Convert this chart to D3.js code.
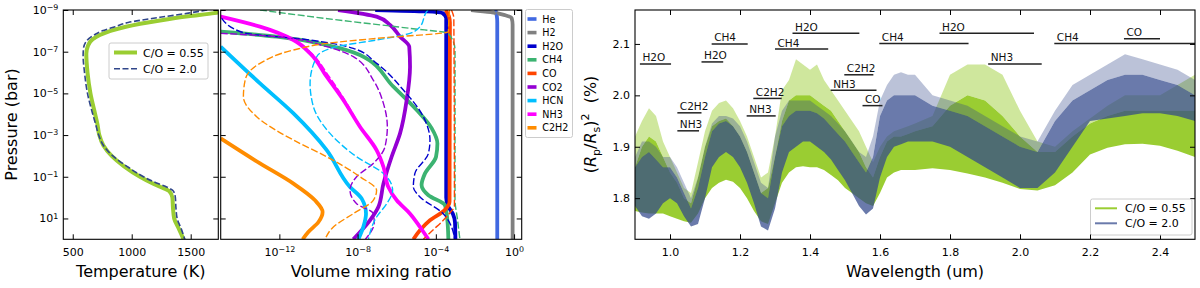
<!DOCTYPE html>
<html><head><meta charset="utf-8">
<script src="https://cdn.jsdelivr.net/npm/d3@7"></script>
<style>
body{margin:0;background:#fff;}
svg{font-family:"DejaVu Sans",sans-serif;}
</style></head><body>
<svg id="chart" width="1200" height="288"></svg>
<script>
// ---------------- DATA ----------------
// Temperature-pressure profiles (log10 P [bar], T [K])
const tpLogP055 = [-9, -8.85, -8.7, -8.5, -8.2, -8.0, -7.8, -7.6, -7.3, -6.9, -6, -5, -4, -3.5, -3, -2.5, -2, -1.5, -1, -0.7, -0.5, -0.3, 0, 0.5, 1, 1.5, 2];
const tp055     = [1790, 1700, 1480, 1240, 950, 820, 730, 670, 630, 615, 625, 650, 690, 710, 725, 760, 830, 935, 1070, 1170, 1250, 1320, 1345, 1350, 1360, 1400, 1440];
const tpLogP20  = [-9, -8.85, -8.65, -8.4, -8.2, -8.0, -7.8, -7.5, -7.1, -6.8, -6, -5, -4, -3.5, -3, -2.5, -2, -1.5, -1, -0.7, -0.5, -0.3, 0, 0.5, 1, 1.5, 2];
const tp20      = [1640, 1480, 1240, 970, 860, 750, 680, 615, 590, 588, 600, 625, 670, 695, 720, 760, 840, 960, 1100, 1210, 1300, 1355, 1370, 1375, 1385, 1420, 1450];

// Volume mixing ratio profiles: [log10 P, log10 VMR]
const species = ["He", "H2", "H2O", "CH4", "CO", "CO2", "HCN", "NH3", "C2H2"];
const speciesColors = ["#4169e1", "#808080", "#0000cd", "#3cb371", "#ff4500", "#9400d3", "#00bfff", "#ff00ff", "#ff8c00"];
const He_055 = [[-9,-0.95],[-8.7,-0.88],[-8.4,-0.86],[2,-0.86]];
const He_20  = [[-9,-0.95],[-8.7,-0.88],[-8.4,-0.86],[2,-0.86]];
const H2_055 = [[-9,-2.2],[-8.9,-1.2],[-8.75,-0.45],[-8.6,-0.12],[-8.3,-0.075],[2,-0.075]];
const H2_20  = [[-9,-2.2],[-8.9,-1.2],[-8.75,-0.45],[-8.6,-0.12],[-8.3,-0.075],[2,-0.075]];
const H2O_055 = [[-9,-7.1],[-8.93,-4.5],[-8.85,-3.65],[-8.6,-3.47],[0,-3.47],[0.4,-3.38],[0.8,-3.12],[1.2,-3.02],[2,-3.0]];
const H2O_20  = [[-8.6,-14.95],[-7.91,-13.84],[-7.56,-10.43],[-7.16,-8.22],[-6.44,-7.03],[-5.16,-5.66],[-3.88,-4.64],[-2.76,-4.3],[-2.12,-4.38],[-1.16,-5.07],[-0.51,-5.15],[-0.03,-4.81],[0.77,-3.62],[2.0,-3.02]];
const CH4_055 = [[-7.96,-15],[-7.72,-12.14],[-7.32,-9.58],[-6.84,-7.88],[-5.32,-6.17],[-4.2,-4.98],[-3.32,-4.21],[-2.6,-3.92],[-1.96,-3.99],[-1.15,-4.56],[-0.6,-4.73],[-0.11,-4.38],[0.37,-3.53],[1.09,-3.41],[2.0,-3.36]];
const CH4_20  = [[-9,-12.99],[-8.49,-8.73],[-8.12,-5.32],[-7.88,-3.36],[-7.08,-3.02],[0.1,-3.02],[1.0,-2.9],[2,-2.77]];
const CO_055 = [[-9,-3.5],[-8.7,-3.33],[-8.4,-3.28],[0.2,-3.3],[0.6,-3.55],[1.09,-4.3],[1.57,-4.81],[2,-5.15]];
const CO_20  = [[-9,-3.2],[-8.6,-3.08],[0.4,-3.05],[0.75,-3.3],[1.09,-3.62],[1.6,-4.2],[2,-4.64]];
const CO2_055 = [[-9,-9.0],[-8.68,-7.03],[-8.28,-6.34],[-7.72,-5.83],[-7.24,-5.36],[-6.28,-5.32],[-4.68,-5.49],[-3.08,-5.83],[-1.96,-6.26],[-0.67,-6.68],[0.45,-6.94],[1.09,-7.37],[2.0,-8.22]];
const CO2_20  = [[-7.88,-15],[-7.72,-12.14],[-7.24,-9.58],[-6.76,-8.22],[-5.64,-7.2],[-4.52,-6.68],[-3.4,-6.48],[-2.44,-6.6],[-1.64,-7.2],[-1.0,-8.05],[-0.35,-8.39],[0.29,-8.05],[0.77,-7.2],[1.2,-7.15],[2,-7.6]];
const HCN_055 = [[-7.24,-15],[-5.48,-12.99],[-4.04,-11.28],[-2.28,-9.58],[-0.51,-8.39],[0.05,-7.79],[0.77,-7.57],[1.41,-7.71],[2.0,-7.96]];
const HCN_20  = [[-9,-4.4],[-8.92,-4.47],[-8.2,-4.81],[-7.88,-5.32],[-7.56,-7.03],[-7.24,-9.07],[-6.76,-10.09],[-5.48,-10.43],[-4.36,-10.26],[-3.08,-9.41],[-1.96,-8.05],[-1.16,-6.68],[-0.35,-6.21],[0.29,-6.51],[0.93,-7.03],[2.0,-7.45]];
const NH3_055 = [[-8.68,-15],[-8.2,-12.99],[-7.56,-11.28],[-6.92,-10.43],[-5.8,-9.58],[-4.68,-8.73],[-3.4,-7.88],[-2.28,-7.03],[-1.48,-6.68],[-0.51,-6.43],[0.13,-6.0],[0.77,-5.32],[1.41,-4.81],[2.0,-4.38]];
const NH3_20  = [[-8.68,-15],[-8.2,-13.0],[-7.56,-11.2],[-6.92,-10.35],[-5.8,-9.45],[-4.68,-8.65],[-3.4,-7.85],[-2.28,-7.05],[-1.48,-6.72],[-0.51,-6.45],[0.13,-6.02],[0.77,-5.35],[1.41,-4.83],[2.0,-4.4]];
const C2H2_055 = [[-2.84,-15],[-1.64,-12.99],[-0.67,-11.28],[0.13,-10.18],[0.69,-9.79],[1.17,-10.0],[1.65,-10.52],[2.0,-10.81]];
const C2H2_20  = [[-9,-3.3],[-8.2,-3.35],[-7.96,-3.36],[-7.64,-7.03],[-7.4,-9.58],[-7.08,-11.28],[-6.44,-12.99],[-5.64,-13.75],[-4.84,-13.84],[-3.88,-13.16],[-2.76,-11.28],[-1.96,-9.58],[-1.0,-7.88],[-0.35,-7.03],[0.13,-7.2],[0.77,-8.22],[1.41,-9.24],[2.0,-9.67]];
const profiles055 = [He_055, H2_055, H2O_055, CH4_055, CO_055, CO2_055, HCN_055, NH3_055, C2H2_055];
const profiles20  = [He_20, H2_20, H2O_20, CH4_20, CO_20, CO2_20, HCN_20, NH3_20, C2H2_20];

// Transmission spectra: wavelength (um), lower edge / dense top / spike top of (Rp/Rs)^2 (%)
const wl = [0.90,0.92,0.94,0.96,0.98,1.00,1.02,1.04,1.06,1.08,1.10,1.12,1.14,1.16,1.18,1.20,1.22,1.24,1.26,1.28,1.30,1.32,1.34,1.36,1.38,1.40,1.42,1.44,1.46,1.48,1.50,1.52,1.54,1.56,1.58,1.60,1.62,1.64,1.66,1.68,1.70,1.75,1.80,1.85,1.90,1.95,2.00,2.05,2.10,2.15,2.20,2.25,2.30,2.35,2.40,2.45,2.50];
const g055Lo  = [1.775,1.772,1.77,1.77,1.77,1.765,1.76,1.755,1.752,1.77,1.80,1.82,1.83,1.836,1.832,1.82,1.80,1.775,1.755,1.75,1.79,1.83,1.85,1.86,1.862,1.86,1.86,1.855,1.845,1.835,1.82,1.81,1.80,1.79,1.785,1.81,1.84,1.85,1.855,1.855,1.855,1.858,1.855,1.848,1.84,1.83,1.818,1.815,1.825,1.85,1.885,1.898,1.905,1.906,1.902,1.892,1.88];
const g055Top = [1.86,1.90,1.92,1.91,1.88,1.85,1.83,1.80,1.79,1.84,1.90,1.94,1.95,1.955,1.94,1.92,1.89,1.85,1.81,1.82,1.88,1.95,1.99,2.0,2.0,2.0,1.99,1.98,1.97,1.95,1.93,1.91,1.89,1.86,1.84,1.88,1.91,1.92,1.92,1.925,1.93,1.94,1.98,2.0,1.99,1.96,1.92,1.89,1.89,1.92,1.945,1.96,1.97,1.97,1.97,1.97,1.97];
const g055Hi  = [1.92,1.95,1.975,1.96,1.91,1.88,1.85,1.82,1.81,1.87,1.93,1.97,1.985,1.99,1.975,1.95,1.92,1.88,1.84,1.85,1.92,2.01,2.03,2.07,2.06,2.05,2.06,2.03,2.01,1.99,1.97,1.95,1.93,1.90,1.87,1.90,1.92,1.93,1.935,1.94,1.945,1.96,2.04,2.06,2.06,2.04,1.97,1.91,1.90,1.93,1.955,1.98,2.0,2.0,2.0,2.02,2.04];
const b20Lo   = [1.785,1.765,1.76,1.77,1.79,1.80,1.79,1.765,1.745,1.75,1.80,1.86,1.88,1.89,1.88,1.86,1.83,1.79,1.745,1.737,1.78,1.85,1.89,1.90,1.91,1.91,1.90,1.89,1.875,1.855,1.835,1.81,1.785,1.768,1.78,1.84,1.88,1.90,1.905,1.91,1.91,1.91,1.90,1.88,1.86,1.84,1.82,1.82,1.85,1.90,1.95,1.955,1.96,1.965,1.965,1.96,1.95];
const b20Top  = [1.86,1.88,1.89,1.875,1.86,1.86,1.84,1.81,1.78,1.82,1.88,1.93,1.945,1.95,1.94,1.92,1.89,1.85,1.81,1.80,1.88,1.94,1.96,1.97,1.97,1.97,1.965,1.955,1.94,1.925,1.91,1.89,1.87,1.85,1.88,1.96,1.99,2.0,2.0,2.0,2.0,1.98,1.97,1.96,1.94,1.92,1.90,1.89,1.95,1.99,2.01,2.03,2.04,2.04,2.03,2.02,2.0];
const b20Hi   = [1.88,1.91,1.91,1.90,1.88,1.88,1.86,1.83,1.80,1.84,1.90,1.945,1.96,1.96,1.955,1.94,1.91,1.87,1.83,1.82,1.92,1.97,1.99,1.99,1.99,1.99,1.98,1.97,1.96,1.945,1.93,1.91,1.89,1.88,1.92,1.99,2.02,2.04,2.045,2.04,2.04,2.0,1.99,1.98,1.96,1.94,1.92,1.91,1.97,2.02,2.04,2.06,2.08,2.07,2.06,2.05,2.03];

// Molecular band annotations
const bandLabels = ["H2O","CH4","H2O","C2H2","NH3","H2O","CH4","C2H2","NH3","C2H2","NH3","CO","CH4","H2O","NH3","CH4","CO"];
const bandStart  = [0.914,1.119,1.090,1.021,1.021,1.350,1.300,1.238,1.219,1.498,1.459,1.550,1.598,1.770,1.909,2.098,2.297];
const bandEnd    = [1.003,1.222,1.152,1.090,1.083,1.541,1.452,1.319,1.302,1.581,1.590,1.607,1.853,2.040,2.062,2.500,2.400];
const bandLevel  = [2.061,2.100,2.065,1.966,1.931,2.121,2.090,1.994,1.960,2.040,2.010,1.980,2.101,2.121,2.061,2.101,2.110];

// Tick values
const pTicks = [-9,-7,-5,-3,-1,1];
const tTicks = [500,1000,1500];
const vTicks = [-12,-8,-4,0];
const wTicks = [1.0,1.2,1.4,1.6,1.8,2.0,2.2,2.4];
const rTicks = [1.8,1.9,2.0,2.1];
const caseLabels = ["C/O = 0.55","C/O = 2.0"];

// ---------------- LAYOUT ----------------
const GREEN = "#9acd32", NAVY = "#30468a";
const svg = d3.select("#chart");
const FS = 11;
const PL = {x0:63.3, x1:218.3, y0:10, y1:239.3};
const PM = {x0:220.7, x1:521.7, y0:10, y1:239.3};
const PR = {x0:635, x1:1195, y0:10, y1:239.3};

const xT = d3.scaleLinear().domain([420,1734]).range([PL.x0,PL.x1]);
const yP = d3.scaleLog().domain([1e-9,1e2]).range([PL.y0,PL.y1]);
const xV = d3.scaleLog().domain([1e-15,Math.pow(10,0.39)]).range([PM.x0,PM.x1]);
const xW = d3.scaleLinear().domain([0.9,2.5]).range([PR.x0,PR.x1]);
const yR = d3.scaleLinear().domain([1.72,2.166]).range([PR.y1,PR.y0]);

const defs = svg.append("defs");
function clip(id,p){defs.append("clipPath").attr("id",id).append("rect").attr("x",p.x0).attr("y",p.y0).attr("width",p.x1-p.x0).attr("height",p.y1-p.y0);}
clip("cL",PL);clip("cM",PM);clip("cR",PR);

function supText(sel, fmt){
  sel.each(function(d){
    const t=d3.select(this); const [base,exp]=fmt(d);
    t.text(base);
    if(exp!==undefined) t.append("tspan").attr("dy","-0.48em").attr("font-size","0.72em").text(exp);
  });
}
const expFmt = e => ["10", (e<0?"\u2212":"")+Math.abs(e)];

function axes(p, xs, ys, xt, yt, xfmt, yfmt, xIsLog, yIsLog){
  const g = svg.append("g");
  const xv = xIsLog ? xt.map(e=>Math.pow(10,e)) : xt;
  const yv = yIsLog ? yt.map(e=>Math.pow(10,e)) : yt;
  const ab = g.append("g").attr("transform",`translate(0,${p.y1})`).call(d3.axisBottom(xs).tickValues(xv).tickSize(-5).tickPadding(9).tickFormat(""));
  g.append("g").attr("transform",`translate(0,${p.y0})`).call(d3.axisTop(xs).tickValues(xv).tickSize(-5).tickFormat(""));
  const al = g.append("g").attr("transform",`translate(${p.x0},0)`).call(d3.axisLeft(ys).tickValues(yv).tickSize(-5).tickPadding(5).tickFormat(""));
  g.append("g").attr("transform",`translate(${p.x1},0)`).call(d3.axisRight(ys).tickValues(yv).tickSize(-5).tickFormat(""));
  g.selectAll(".domain").remove();
  g.selectAll(".tick line").attr("stroke","#000").attr("stroke-width",1);
  if(xfmt){ ab.selectAll(".tick text").data(xt).attr("font-size",FS).attr("font-family","DejaVu Sans").attr("fill","#000").call(supText,xfmt); }
  if(yfmt){ al.selectAll(".tick text").data(yt).attr("font-size",FS).attr("font-family","DejaVu Sans").attr("fill","#000").call(supText,yfmt); }
  g.append("rect").attr("x",p.x0).attr("y",p.y0).attr("width",p.x1-p.x0).attr("height",p.y1-p.y0).attr("fill","none").attr("stroke","#000").attr("stroke-width",1.1);
}

// ---------------- LEFT: T-P ----------------
const gL = svg.append("g").attr("clip-path","url(#cL)");
const zip = (ps,ts)=>ps.map((p,i)=>[p,ts[i]]).sort((a,b)=>a[0]-b[0]);
const tpLine = d3.line().x(d=>xT(d[1])).y(d=>yP(Math.pow(10,d[0]))).curve(d3.curveMonotoneY);
gL.append("path").attr("d",tpLine(zip(tpLogP055,tp055))).attr("fill","none").attr("stroke",GREEN).attr("stroke-width",4);
gL.append("path").attr("d",tpLine(zip(tpLogP20,tp20))).attr("fill","none").attr("stroke",NAVY).attr("stroke-width",1.6).attr("stroke-dasharray","6,2.5");
axes(PL,xT,yP,tTicks,pTicks,d=>[String(d)],expFmt,false,true);
// legend
const lg = svg.append("g");
lg.append("rect").attr("x",109).attr("y",43).attr("width",99).attr("height",36).attr("rx",2).attr("fill","#fff").attr("fill-opacity",0.85).attr("stroke","#ccc");
[0,1].forEach(i=>{
  const y = 52.5 + i*16.2;
  lg.append("line").attr("x1",114).attr("x2",137).attr("y1",y).attr("y2",y).attr("stroke",i?NAVY:GREEN).attr("stroke-width",i?1.6:4).attr("stroke-dasharray",i?"6,2.5":null);
  lg.append("text").attr("x",143).attr("y",y+4).attr("font-size",FS).text(caseLabels[i]);
});
svg.append("text").attr("transform","translate(17,124.5) rotate(-90)").attr("text-anchor","middle").attr("font-size",16).text("Pressure (bar)");
svg.append("text").attr("x",(PL.x0+PL.x1)/2).attr("y",277).attr("text-anchor","middle").attr("font-size",16).text("Temperature (K)");

// ---------------- MIDDLE: VMR ----------------
const gM = svg.append("g").attr("clip-path","url(#cM)");
const vLine = d3.line().x(d=>xV(Math.pow(10,d[1]))).y(d=>yP(Math.pow(10,d[0]))).curve(d3.curveMonotoneY);
species.forEach((s,i)=>{
  gM.append("path").attr("d",vLine(profiles055[i].slice().sort((a,b)=>a[0]-b[0]))).attr("fill","none").attr("stroke",speciesColors[i]).attr("stroke-width",3.8);
});
species.forEach((s,i)=>{
  gM.append("path").attr("d",vLine(profiles20[i].slice().sort((a,b)=>a[0]-b[0]))).attr("fill","none").attr("stroke",speciesColors[i]).attr("stroke-width",1.4).attr("stroke-dasharray","7,2.5");
});
axes(PM,xV,yP,vTicks,pTicks,expFmt,null,true,true);
svg.append("text").attr("x",(PM.x0+PM.x1)/2).attr("y",277).attr("text-anchor","middle").attr("font-size",16).text("Volume mixing ratio");
// species legend
const sl = svg.append("g");
sl.append("rect").attr("x",525.5).attr("y",9.5).attr("width",47).attr("height",128).attr("rx",2).attr("fill","#fff").attr("stroke","#ccc");
species.forEach((s,i)=>{
  const y = 19 + i*13.6;
  sl.append("rect").attr("x",527.5).attr("y",y-1.8).attr("width",9).attr("height",3.6).attr("fill",speciesColors[i]);
  sl.append("text").attr("x",542.3).attr("y",y+3.5).attr("font-size",9.6).text(s);
});

// ---------------- RIGHT: spectra ----------------
const gR = svg.append("g").attr("clip-path","url(#cR)");
const spec = (lo,top,hi)=>wl.map((w,i)=>({w,lo:lo[i],top:top[i],hi:hi[i]}));
const sG = spec(g055Lo,g055Top,g055Hi), sB = spec(b20Lo,b20Top,b20Hi);
const areaBand = d3.area().x(d=>xW(d.w)).y0(d=>yR(d.lo)).y1(d=>yR(d.top));
const areaSpike = d3.area().x(d=>xW(d.w)).y0(d=>yR(d.top)).y1(d=>yR(d.hi));
gR.append("path").attr("d",areaSpike(sG)).attr("fill",GREEN).attr("fill-opacity",0.48);
gR.append("path").attr("d",areaBand(sG)).attr("fill",GREEN);
gR.append("path").attr("d",areaSpike(sB)).attr("fill",NAVY).attr("fill-opacity",0.33);
gR.append("path").attr("d",areaBand(sB)).attr("fill",NAVY).attr("fill-opacity",0.72);
// band annotations
const an = svg.append("g");
bandLabels.forEach((lab,i)=>{
  const y = yR(bandLevel[i]);
  an.append("line").attr("x1",xW(bandStart[i])).attr("x2",Math.min(xW(bandEnd[i]),PR.x1)).attr("y1",y).attr("y2",y).attr("stroke","#222").attr("stroke-width",1.5);
  an.append("text").attr("x",xW(bandStart[i])+2.5).attr("y",y-2.5).attr("font-size",10.5).attr("fill","#111").text(lab);
});
axes(PR,xW,yR,wTicks,rTicks,d=>[d.toFixed(1)],d=>[d.toFixed(1)],false,false);
svg.append("text").attr("x",(PR.x0+PR.x1)/2).attr("y",277).attr("text-anchor","middle").attr("font-size",16).text("Wavelength (um)");
const yl = svg.append("text").attr("transform","translate(596,124.5) rotate(-90)").attr("text-anchor","middle").attr("font-size",16);
yl.append("tspan").text("(");
yl.append("tspan").attr("font-style","italic").text("R");
yl.append("tspan").attr("font-size",11).attr("dy",3.5).text("p");
yl.append("tspan").attr("dy",-3.5).text("/");
yl.append("tspan").attr("font-style","italic").text("R");
yl.append("tspan").attr("font-size",11).attr("dy",3.5).text("s");
yl.append("tspan").attr("dy",-3.5).text(")");
yl.append("tspan").attr("font-size",11).attr("dy",-7).text("2");
yl.append("tspan").attr("dy",7).text("\u00a0\u00a0(%)");
// right legend
const rl = svg.append("g");
rl.append("rect").attr("x",1090.5).attr("y",199).attr("width",101.5).attr("height",36).attr("rx",2).attr("fill","#fff").attr("fill-opacity",0.85).attr("stroke","#ccc");
[0,1].forEach(i=>{
  const y = 208.3 + i*15;
  rl.append("line").attr("x1",1095).attr("x2",1117).attr("y1",y).attr("y2",y).attr("stroke",i?NAVY:GREEN).attr("stroke-opacity",i?0.72:1).attr("stroke-width",2);
  rl.append("text").attr("x",1125).attr("y",y+4).attr("font-size",FS).text(caseLabels[i]);
});
</script></body></html>
